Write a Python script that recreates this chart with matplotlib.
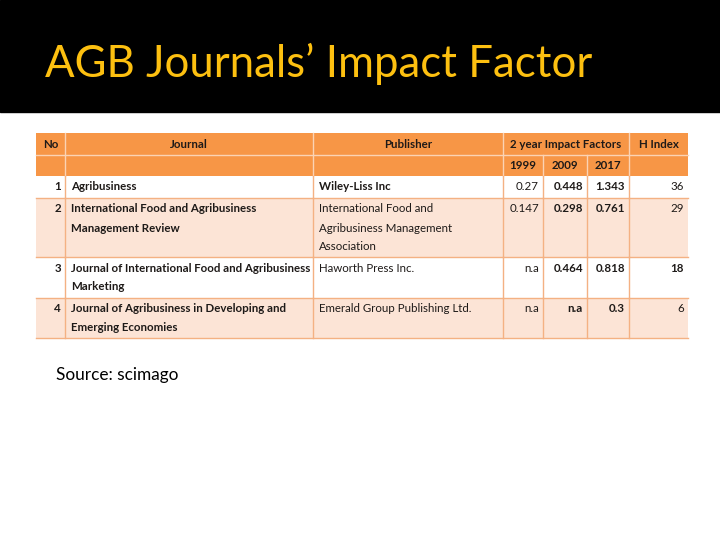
import matplotlib
matplotlib.use("Agg")
import matplotlib.pyplot as plt
from matplotlib.patches import Rectangle

# --- DATA ---
TITLE = "AGB Journals\u2019 Impact Factor"
SOURCE = "Source: scimago"

numbers = [1, 2, 3, 4]
journals = [
    ["Agribusiness"],
    ["International Food and Agribusiness", "Management Review"],
    ["Journal of International Food and Agribusiness", "Marketing"],
    ["Journal of Agribusiness in Developing and", "Emerging Economies"],
]
publishers = [
    ["Wiley-Liss Inc"],
    ["International Food and", "Agribusiness Management", "Association"],
    ["Haworth Press Inc."],
    ["Emerald Group Publishing Ltd."],
]
years = ["1999", "2009", "2017"]
impact_1999 = ["0.27", "0.147", "n.a", "n.a"]
impact_2009 = ["0.448", "0.298", "0.464", "n.a"]
impact_2017 = ["1.343", "0.761", "0.818", "0.3"]
h_index = [36, 29, 18, 6]
# rows 3 and 4 keep a blank second line in the publisher / numbers
min_lines = [1, 1, 2, 2]

# --- STYLE ---
ORANGE = "#F79646"
LIGHT = "#FCE4D6"
BODY_LINE = "#F4B183"
HEAD_LINE = "#FBD3B4"
YELLOW = "#FDC010"
TXT = "#1e1a18"
FONT = ["Lato", "DejaVu Sans"]
FS = 8.3

# column edges in pixels
col_x = [36, 65, 313, 503, 543, 587, 629, 688]
TOP = 133
HEAD_H = [22, 21]
LINE_STEP = 19      # text line spacing
ROW_STEP = 18.5     # row height per line

fig = plt.figure(figsize=(7.2, 5.4), dpi=100)
ax = fig.add_axes([0, 0, 1, 1])
ax.set_xlim(0, 720)
ax.set_ylim(540, 0)
ax.axis("off")

# title band
ax.add_patch(Rectangle((0, 0), 720, 112, color="black", zorder=0))
ax.text(45, 64, TITLE, color=YELLOW, fontsize=31.5, family=FONT,
        va="center", ha="left")

# header rows
y0 = TOP
y1 = y0 + HEAD_H[0]
y2 = y1 + HEAD_H[1]
ax.add_patch(Rectangle((col_x[0], y0), col_x[-1] - col_x[0], y2 - y0,
                       facecolor=ORANGE, edgecolor="none"))
ax.plot([col_x[0], col_x[-1]], [y1, y1], color=HEAD_LINE, lw=1)
for i, x in enumerate(col_x[1:-1], start=1):
    # merged header cell over the three year columns
    top = y1 if i in (4, 5) else y0
    ax.plot([x, x], [top, y2], color=HEAD_LINE, lw=1)

head = ["No", "Journal", "Publisher", "2 year Impact Factors", "H Index"]
head_spans = [(0, 1), (1, 2), (2, 3), (3, 6), (6, 7)]
for label, (a, b) in zip(head, head_spans):
    ax.text((col_x[a] + col_x[b]) / 2, (y0 + y1) / 2, label, fontsize=FS,
            family=FONT, weight="bold", ha="center", va="center", color=TXT)
for j, yr in enumerate(years):
    ax.text((col_x[3 + j] + col_x[4 + j]) / 2, (y1 + y2) / 2, yr, fontsize=FS,
            family=FONT, weight="bold", ha="center", va="center", color=TXT)

# body rows
y = y2
for r in range(len(numbers)):
    n_lines = max(len(journals[r]), len(publishers[r]), min_lines[r])
    h = 3.5 + ROW_STEP * n_lines
    fill = "white" if r % 2 == 0 else LIGHT
    ax.add_patch(Rectangle((col_x[0], y), col_x[-1] - col_x[0], h,
                           facecolor=fill, edgecolor="none"))
    ax.plot([col_x[0], col_x[-1]], [y + h, y + h], color=BODY_LINE, lw=1)
    for x in col_x[1:-1]:
        ax.plot([x, x], [y, y + h], color=BODY_LINE, lw=1)

    ty = y + 11
    ax.text(col_x[1] - 4, ty, str(numbers[r]), fontsize=FS, family=FONT,
            weight="bold", ha="right", va="center", color=TXT)
    for k, line in enumerate(journals[r]):
        ax.text(col_x[1] + 6, ty + LINE_STEP * k, line, fontsize=FS, family=FONT,
                weight="bold", ha="left", va="center", color=TXT)
    pub_w = "bold" if r == 0 else "normal"
    for k, line in enumerate(publishers[r]):
        ax.text(col_x[2] + 6, ty + LINE_STEP * k, line, fontsize=FS, family=FONT,
                weight=pub_w, ha="left", va="center", color=TXT)
    vals = [impact_1999[r], impact_2009[r], impact_2017[r]]
    weights = ["normal", "bold", "bold"]
    for j, (v, w) in enumerate(zip(vals, weights)):
        ax.text(col_x[4 + j] - 4, ty, v, fontsize=FS, family=FONT, weight=w,
                ha="right", va="center", color=TXT)
    ax.text(col_x[7] - 4, ty, str(h_index[r]), fontsize=FS, family=FONT,
            weight="bold" if r == 2 else "normal", ha="right", va="center",
            color=TXT)
    y += h

ax.text(56, 375, SOURCE, fontsize=12.4, family=FONT,
        ha="left", va="center", color="black")

fig.savefig("out.png", dpi=100)
